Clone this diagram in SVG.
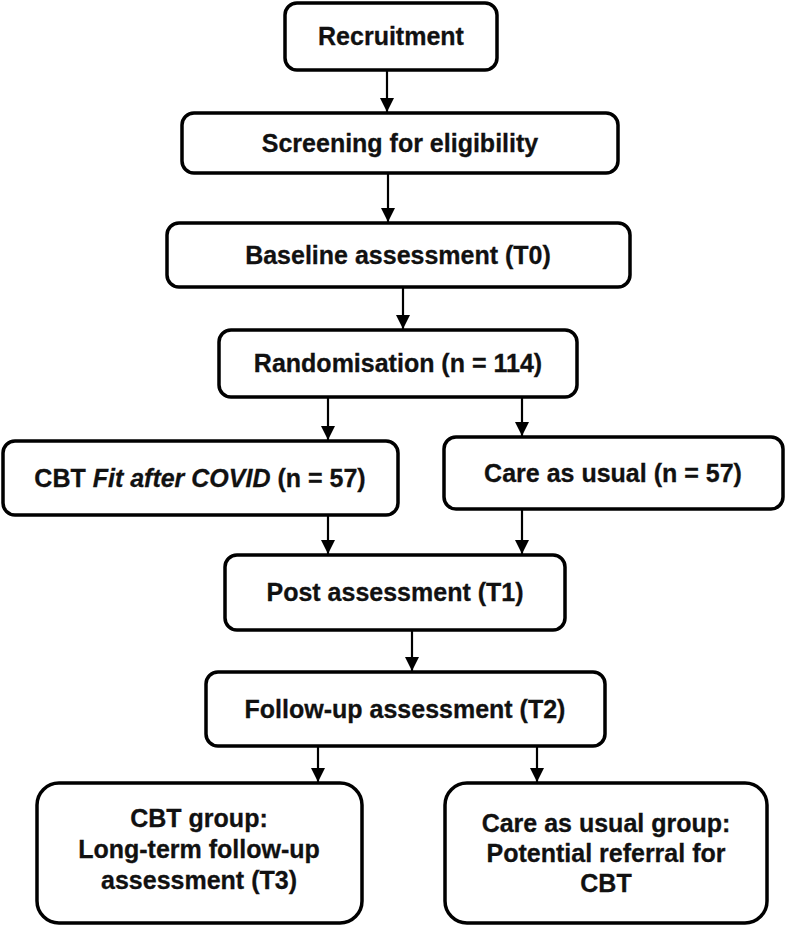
<svg xmlns="http://www.w3.org/2000/svg" width="787" height="928" viewBox="0 0 787 928">
<style>
.box{fill:#fff;stroke:#000;stroke-width:3.5}
.t{font-family:"Liberation Sans",Arial,sans-serif;font-weight:bold;font-size:25px;fill:#111;stroke:#111;stroke-width:0.3;text-anchor:middle}
.c{stroke:#000;stroke-width:2.2;fill:none;marker-end:url(#ah)}
</style>
<defs>
<marker id="ah" markerWidth="14" markerHeight="14" refX="14" refY="7" orient="auto" markerUnits="userSpaceOnUse">
<path d="M0,0 L14,7 L0,14 Z" fill="#000"/>
</marker>
</defs>
<rect width="787" height="928" fill="#fff"/>
<g id="connectors">
<line class="c" x1="387" y1="70" x2="387" y2="112"/>
<line class="c" x1="388" y1="173" x2="388" y2="222"/>
<line class="c" x1="403" y1="287" x2="403" y2="329"/>
<line class="c" x1="328" y1="397" x2="328" y2="440"/>
<line class="c" x1="522" y1="397" x2="522" y2="436"/>
<line class="c" x1="328" y1="515" x2="328" y2="554"/>
<line class="c" x1="522" y1="509" x2="522" y2="554"/>
<line class="c" x1="412" y1="630" x2="412" y2="671"/>
<line class="c" x1="318" y1="746" x2="318" y2="782"/>
<line class="c" x1="537" y1="746" x2="537" y2="782"/>
</g>
<g id="recruitment"><rect class="box" x="285" y="3" width="212" height="67" rx="12"/><text class="t" x="391" y="45">Recruitment</text></g>
<g id="screening"><rect class="box" x="182" y="113" width="436" height="60" rx="12"/><text class="t" x="400" y="152">Screening for eligibility</text></g>
<g id="baseline"><rect class="box" x="167" y="223" width="463" height="64" rx="12"/><text class="t" x="398" y="264">Baseline assessment (T0)</text></g>
<g id="randomisation"><rect class="box" x="219" y="330" width="358" height="67" rx="12"/><text class="t" x="398" y="372">Randomisation (n = 114)</text></g>
<g id="cbt"><rect class="box" x="3" y="441" width="395" height="74" rx="12"/><text class="t" x="200" y="487">CBT <tspan font-style="italic">Fit after COVID</tspan> (n = 57)</text></g>
<g id="cau"><rect class="box" x="444" y="437" width="339" height="72" rx="12"/><text class="t" x="613" y="482">Care as usual (n = 57)</text></g>
<g id="post"><rect class="box" x="225" y="555" width="340" height="75" rx="12"/><text class="t" x="395" y="601">Post assessment (T1)</text></g>
<g id="followup"><rect class="box" x="206" y="672" width="399" height="74" rx="12"/><text class="t" x="405" y="718">Follow-up assessment (T2)</text></g>
<g id="cbt-group"><rect class="box" x="37" y="783" width="325" height="140" rx="22"/><text class="t" x="199" y="827">CBT group:</text><text class="t" x="199" y="858">Long-term follow-up</text><text class="t" x="199" y="889">assessment (T3)</text></g>
<g id="cau-group"><rect class="box" x="445" y="783" width="322" height="140" rx="22"/><text class="t" x="606" y="832">Care as usual group:</text><text class="t" x="606" y="862">Potential referral for</text><text class="t" x="606" y="892">CBT</text></g>
</svg>
